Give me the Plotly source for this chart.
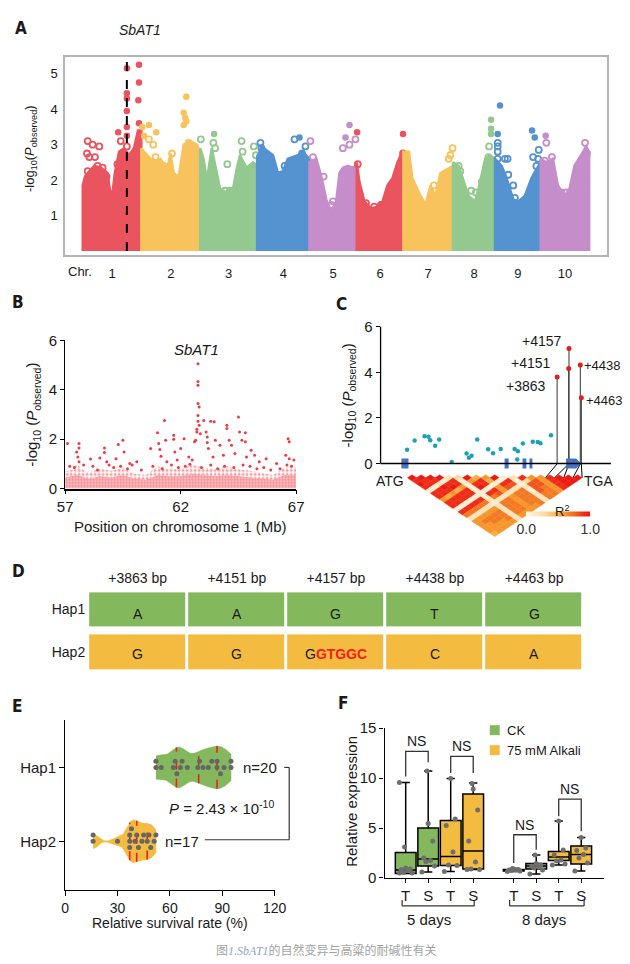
import numpy as np
import plotly.graph_objects as go
from plotly.colors import sample_colorscale

W, H = 630, 964
# The page body keeps an 8px margin and the whole page is photographed into 630x964,
# so target (picture) pixel positions are mapped back into figure pixels here.
PAGE_M = 8
SX, SY = W / (W + 2 * PAGE_M), H / (H + 2 * PAGE_M)
def X(d): return d / SX - PAGE_M
def Y(d): return d / SY - PAGE_M
def fx(d): return min(max(X(d) / W, 0), 1)
def fy(d): return min(max(1 - Y(d) / H, 0), 1)
def dom_x(a, b): return [fx(a), fx(b)]
def dom_y(top, bottom): return [fy(bottom), fy(top)]

FONT = "Liberation Sans, Arial, Helvetica, sans-serif"
BOLD = "Liberation Sans Narrow, DejaVu Sans Condensed, Arial Narrow, sans-serif"
INK = "#1a1a1a"

# ======================= DATA =======================
# ---- Panel A: Manhattan plot (positions within chromosome, Mb)
CHR_NAMES = ['1', '2', '3', '4', '5', '6', '7', '8', '9', '10']
CHR_LEN = [81, 81.4, 78.7, 72.3, 65.4, 64.5, 68.6, 58.1, 63.1, 67]
RED, YEL, GRN, BLU, PUR = '#E9545E', '#F8C35C', '#93C98F', '#5492D0', '#C58DC9'
CHR_COLORS = [RED, YEL, GRN, BLU, PUR, RED, YEL, GRN, BLU, PUR]
ENV_POS = [
    [0, 3.2, 6.9, 16, 25.2, 34.3, 38, 41.6, 44.4, 50.3, 57.2, 64, 70.9, 76.4, 81],
    [0, 3.7, 8.2, 17.4, 26.5, 35.7, 40.3, 44.8, 51.7, 58.6, 67.7, 76.9, 81.4],
    [0, 4.6, 9.2, 16, 20.6, 27.5, 36.6, 45.8, 50.3, 54.9, 64, 73.2, 78.7],
    [0, 5.9, 15.1, 22, 28.8, 35.7, 42.5, 49.4, 56.3, 63.1, 67.7, 72.3],
    [0, 9.6, 16.5, 23.3, 30.2, 37, 41.6, 46.2, 53.1, 59.9, 65.4],
    [0, 3.7, 10.5, 19.7, 28.8, 35.7, 42.5, 49.4, 56.3, 60.8, 64.5],
    [0, 7.8, 12.4, 21.5, 30.7, 37.5, 44.4, 51.2, 60.4, 68.6],
    [0, 7.8, 14.6, 21.5, 30.7, 37.5, 44.4, 51.2, 58.1],
    [0, 9.2, 16, 25.2, 32, 41.2, 50.3, 57.2, 63.1],
    [0, 7.8, 16.9, 23.8, 32.9, 39.8, 46.7, 55.8, 62.7, 67],
]
ENV_VAL = [
    [1.85, 2.1, 2.2, 2.4, 2.35, 2.2, 1.65, 1.7, 2.2, 2.8, 2.9, 2.7, 2.9, 3.4, 3.4],
    [2.9, 2.8, 2.7, 2.5, 2.6, 2.3, 2.75, 2.2, 2.1, 3.0, 3.1, 3.0, 2.8],
    [2.9, 2.6, 2.0, 2.9, 2.4, 1.75, 1.65, 1.8, 2.3, 2.7, 2.35, 2.5, 2.4],
    [2.6, 2.95, 2.8, 2.7, 2.2, 2.25, 2.6, 2.65, 2.7, 2.8, 2.7, 2.6],
    [2.5, 2.6, 2.1, 1.45, 1.1, 1.4, 2.2, 2.35, 2.4, 2.35, 2.4],
    [2.5, 1.95, 1.4, 1.2, 1.25, 1.4, 1.85, 2.05, 2.5, 2.7, 2.8],
    [2.8, 2.8, 2.05, 1.65, 1.3, 1.85, 1.55, 2.2, 2.3, 2.4],
    [2.5, 2.4, 1.95, 1.55, 1.4, 1.95, 2.6, 2.7, 2.6],
    [2.6, 2.4, 2.05, 1.45, 1.4, 1.55, 2.05, 2.3, 2.5],
    [2.6, 2.5, 2.6, 1.85, 1.55, 1.75, 2.4, 2.7, 2.95, 2.8],
]
TOP_POS = [
    [6.9, 13.7, 22.9, 5.9, 9.2, 16.9, 6.9, 20.6, 27.5, 32.9, 49, 52.6, 48, 61, 61, 61, 61, 61, 61, 61, 77.8, 77.8, 76.9, 77.8],
    [1.4, 10.5, 20.6, 3.7, 10.5, 16.5, 19.7, 42.5, 62.2, 58.6, 60.8, 62.2, 58.6, 65.4, 31.1],
    [0.9, 19.2, 18.3, 20.6, 37.5, 57.2, 58.6, 74.1, 76.9, 34.3, 41.2],
    [4.6, 5.9, 3.7, 51.7, 58.6, 66.8, 62.2, 38, 43.9],
    [1.4, 5, 19.7, 55.4, 49.9, 55.4, 46.2, 63.6, 32.5, 30.2],
    [0.5, 64, 64, 1.4, 12.8, 24.2, 33.4],
    [68, 65, 62.7, 42.1],
    [52.6, 52.6, 52.6, 49.9, 49, 7.8, 10.1, 25.2, 31.6, 39.8],
    [6.9, 3.7, 3.7, 3.7, 3.7, 3.7, 13.7, 17.4, 18.3, 25.2, 27.5, 51.2, 54.9, 60.4, 52.6, 59.5, 57.2],
    [6.9, 7.8, 5.5, 15.6, 28.4, 35.2, 61.3, 64, 51.2],
]
TOP_VAL = [
    [3.1, 3.0, 2.95, 2.75, 2.65, 2.65, 2.25, 2.4, 2.35, 2.1, 3.35, 3.1, 2.45, 5.15, 4.45, 4.3, 3.95, 3.5, 3.25, 2.95, 5.25, 4.75, 4.25, 3.6],
    [3.5, 3.55, 3.35, 3.25, 3.15, 3.0, 2.65, 2.75, 4.35, 3.9, 3.75, 3.65, 3.55, 3.05, 2.4],
    [3.15, 3.3, 3.05, 2.9, 2.45, 3.1, 2.8, 2.95, 2.7, 1.7, 1.7],
    [3.05, 2.9, 2.65, 3.15, 3.2, 2.95, 2.75, 2.4, 2.45],
    [3.1, 2.65, 2.1, 3.55, 3.2, 3.0, 2.9, 3.15, 1.4, 1.3],
    [3.35, 3.3, 2.75, 2.45, 1.35, 1.25, 1.3],
    [2.9, 2.7, 2.6, 1.85],
    [3.7, 3.45, 3.3, 2.95, 2.65, 2.4, 2.25, 1.7, 1.65, 1.95],
    [4.1, 3.3, 3.05, 2.95, 2.8, 2.6, 2.6, 2.6, 2.15, 1.85, 1.5, 3.4, 3.2, 2.85, 2.65, 2.6, 2.4],
    [3.25, 3.05, 2.55, 2.65, 1.65, 1.65, 3.05, 2.75, 2.4],
]
SBAT1_POS_CHR1 = 61.0
A_YTICKS = [1, 2, 3, 4, 5]

# ---- Panel B: chromosome 1 region (Mb, -log10 P)
B_POS = [57.1, 57.6, 57.6, 57.5, 57.55, 57.6, 58.1, 58.5, 58.7, 58.7, 58.8, 59.3, 59.2, 59.5, 59.55,
         59.8, 60.1, 60.7, 61.0, 61.05, 61.1, 61.15, 61.3, 61.35, 61.4, 61.7, 61.7, 61.75, 61.85,
         62.0, 62.15, 62.35, 62.5, 62.6, 62.65, 62.7, 62.75, 62.75, 62.75, 62.75, 62.8, 62.75,
         62.75, 62.8, 62.7, 62.85, 63.0, 63.1, 63.15, 63.15, 63.2, 63.3, 63.45, 63.5, 63.4, 63.7,
         63.85, 64.0, 64.0, 64.1, 64.2, 64.35, 64.5, 64.55, 64.65, 64.8, 64.8, 64.85, 65.05, 65.2,
         65.4, 65.7, 66.15, 66.65, 66.7, 66.55, 66.7, 66.9,
         57.2, 57.4, 57.8, 58.2, 58.4, 58.9, 59.1, 59.4, 59.7, 59.9, 60.3, 60.8, 61.2, 61.6, 61.9,
         62.2, 62.4, 62.9, 63.3, 63.6, 63.9, 64.3, 64.7, 65.0, 65.3, 65.6, 65.9, 66.3, 66.6, 66.8]
B_VAL = [1.82, 1.82, 1.64, 1.48, 1.28, 1.08, 1.2, 1.24, 1.64, 1.46, 1.08, 1.78, 1.21, 1.95, 1.48,
         1.01, 1.08, 1.62, 2.26, 1.82, 1.58, 1.31, 2.76, 1.95, 1.08, 2.16, 2.0, 1.48, 1.15,
         1.62, 2.02, 1.28, 1.15, 1.89, 1.95, 2.29, 5.05, 4.34, 4.18, 3.44, 3.3, 2.96,
         2.72, 2.56, 2.4, 2.22, 2.76, 2.29, 2.09, 1.86, 1.62, 2.72, 2.7, 1.95, 1.28, 1.75,
         1.35, 2.56, 2.43, 1.95, 1.75, 1.42, 2.9, 2.29, 1.95, 2.26, 1.89, 1.28, 1.55, 1.35,
         1.08, 1.21, 1.01, 2.02, 1.89, 1.35, 1.21, 1.15,
         0.9, 0.85, 0.95, 0.9, 0.75, 0.95, 0.85, 0.9, 0.8, 0.95, 0.75, 0.9, 0.8, 0.95, 0.85,
         0.9, 0.98, 0.85, 0.95, 0.8, 0.9, 0.85, 0.95, 0.9, 0.8, 0.85, 0.75, 0.8, 0.95, 0.9]
B_BAND_POS = [57, 57.3, 57.5, 57.7, 58, 58.5, 59, 59.5, 60, 60.5, 61, 61.5, 62, 62.5, 63, 63.5, 64,
              64.5, 65, 65.5, 66, 66.5, 67]
B_BAND_VAL = [0.7, 0.75, 1.0, 0.8, 0.65, 0.8, 0.72, 0.85, 0.6, 0.55, 0.9, 0.8, 0.8, 0.95, 0.85, 0.8,
              0.9, 0.78, 0.72, 0.62, 0.55, 0.85, 0.85]
B_CORE_VAL = [0.45, 0.5, 0.55, 0.5, 0.4, 0.5, 0.45, 0.55, 0.4, 0.35, 0.55, 0.5, 0.5, 0.6, 0.55, 0.5,
              0.55, 0.5, 0.45, 0.4, 0.35, 0.55, 0.55]

# ---- Panel C: gene-level association (bp from ATG)
C_SNP_POS = [140, 328, 575, 673, 714, 837, 936, 1248, 1617, 1675, 1740, 1880, 2151, 2274, 2463,
             2808, 2890, 2873, 3013, 3259, 3382, 3448, 3711]
C_SNP_VAL = [0.61, 1.01, 1.2, 1.17, 1.02, 0.78, 1.05, 0.07, 0.44, 0.25, 0.34, 1.05, 0.63, 0.45, 0.64,
             0.64, 0.54, 0.18, 0.88, 0.95, 0.94, 0.89, 1.24]
C_SIG_POS = [3863, 4151, 4157, 4438, 4463]
C_SIG_VAL = [3.8, 4.17, 5.05, 4.32, 2.88]
C_SIG_LABELS = ['+3863', '+4151', '+4157', '+4438', '+4463']
C_EXON_START = [0, 2560, 3005, 3177, 4085]
C_EXON_END = [175, 2660, 3100, 3250, 4463]
LD_X_START, LD_X_END = 148, 4483
LD_R2_TENTHS = [
    [10, 9, 10, 9, 1, 9, 9, 6, 9, 9, 1, 9, 7, 2, 6, 6, 6, 6, 5],
    [10, 9, 9, 1, 9, 9, 5, 9, 9, 1, 9, 7, 2, 6, 7, 6, 6, 6],
    [10, 9, 2, 10, 9, 6, 9, 9, 1, 9, 7, 2, 6, 7, 7, 6, 6],
    [10, 1, 9, 10, 5, 9, 9, 1, 9, 7, 2, 6, 7, 7, 6, 6],
    [2, 9, 9, 6, 9, 9, 1, 9, 7, 2, 6, 7, 7, 7, 6],
    [3, 1, 1, 1, 1, 1, 1, 2, 1, 2, 2, 2, 2, 2],
    [10, 6, 9, 10, 1, 9, 7, 2, 7, 7, 7, 7, 6],
    [5, 9, 9, 1, 9, 8, 2, 7, 7, 7, 7, 6],
    [6, 5, 1, 6, 6, 2, 6, 6, 6, 6, 6],
    [10, 1, 9, 8, 2, 7, 7, 7, 7, 6],
    [1, 9, 8, 2, 7, 7, 7, 7, 7],
    [2, 1, 1, 2, 1, 2, 2, 2],
    [9, 3, 8, 8, 8, 7, 7],
    [6, 8, 8, 7, 7, 7],
    [6, 6, 6, 6, 6],
    [9, 9, 9, 9],
    [10, 10, 10],
    [10, 10],
    [10],
]
LD_SCALE = [[0, '#FFF8EA'], [0.3, '#FCD9A0'], [0.55, '#F8A530'], [0.75, '#F26A1E'],
            [0.9, '#EE2C17'], [1, '#EC1A12']]

# ---- Panel D: haplotypes
D_SITES = ['+3863 bp', '+4151 bp', '+4157 bp', '+4438 bp', '+4463 bp']
HAP_NAMES = ['Hap1', 'Hap2']
HAP1_ALLELES = ['A', 'A', 'G', 'T', 'G']
HAP2_ALLELES = ['G', 'G', 'G', 'C', 'A']
HAP2_INSERT = ['', '', 'GTGGC', '', '']
HGREEN, HYELLOW = '#83B95C', '#F3BB40'

# ---- Panel E: relative survival rate (%)
HAP1_SURV = [52, 52, 55, 62, 63, 64, 66, 67, 70, 76, 77, 79, 82, 84, 87, 87, 89, 91, 95, 95]
HAP2_SURV = [16, 16, 30, 37, 37, 37, 38, 40, 41, 42, 44, 45, 47, 48, 49, 51, 52]
E_P_TEXT = '<i>P</i> = 2.43 × 10<sup>-10</sup>'

# ---- Panel F: relative expression
F_POS = [0, 1, 2, 3, 4.8, 5.8, 6.8, 7.8]
F_TICKS = ['T', 'S', 'T', 'S', 'T', 'S', 'T', 'S']
F_TREAT = ['CK', 'CK', 'Alkali', 'Alkali', 'CK', 'CK', 'Alkali', 'Alkali']
F_Q1 = [0.45, 1.2, 1.25, 0.9, 0.7, 0.9, 1.75, 1.4]
F_MED = [0.8, 1.9, 2.15, 2.7, 0.8, 1.2, 2.1, 2.35]
F_Q3 = [2.55, 5.0, 5.75, 8.4, 0.85, 1.45, 2.65, 3.2]
F_LO = [0.45, 0.6, 0.65, 0.85, 0.65, 0.4, 1.3, 0.7]
F_HI = [9.55, 10.7, 9.95, 9.5, 0.95, 2.3, 5.7, 4.05]
F_PTS = [
    [0.5, 0.5, 0.55, 0.8, 0.85, 0.9, 1.0, 3.1, 9.55],
    [0.6, 1.2, 1.65, 1.75, 2.0, 3.7, 5.45, 10.7],
    [0.65, 1.25, 1.3, 2.6, 5.25, 5.9, 9.95],
    [0.85, 0.85, 0.9, 1.6, 3.7, 6.8, 8.9, 9.45],
    [0.65, 0.7, 0.75, 0.8, 0.8, 0.85, 0.9, 0.95],
    [0.4, 0.8, 1.0, 1.1, 1.2, 1.3, 1.45, 2.3],
    [1.3, 1.4, 1.7, 1.8, 2.3, 2.8, 5.7],
    [0.7, 1.5, 2.0, 2.35, 2.75, 3.0, 4.05],
]
F_NS_LEFT = [0, 2, 4.8, 6.8]
F_NS_RIGHT = [1, 3, 5.8, 7.8]
F_NS_TOP = [12.67, 12.17, 4.33, 7.9]
F_NS_LEND = [10.17, 10.5, 1.5, 6.17]
F_NS_REND = [11.6, 10.5, 2.83, 4.67]
F_GROUPS = ['5 days', '8 days']
F_LEGEND = ['CK', '75 mM Alkali']

CAPTION = ("图<span style='font-family:Liberation Serif, serif;color:#93A3C2'><i>1.SbAT1</i></span>"
           "的自然变异与高粱的耐碱性有关")

# ======================= FIGURE =======================
fig = go.Figure()
shapes, annots = [], []

def ann(text, x, y, size=14, xanchor='center', yanchor='middle', color=INK, family=FONT, **kw):
    return dict(text=text, x=fx(x), y=fy(y), xref='paper', yref='paper', showarrow=False,
                font=dict(family=family, size=size, color=color), xanchor=xanchor, yanchor=yanchor, **kw)

def pline(x0, y0, x1, y1, color='#333333', width=1.2):
    return dict(type='line', xref='paper', yref='paper', x0=fx(x0), y0=fy(y0), x1=fx(x1), y1=fy(y1),
                line=dict(color=color, width=width))

# ---------- Panel A
starts = np.concatenate([[0], np.cumsum(CHR_LEN)[:-1]])
centers = starts + np.array(CHR_LEN) / 2
for k in range(10):
    s, L, c = starts[k], CHR_LEN[k], CHR_COLORS[k]
    xs = [s] + [s + p for p in ENV_POS[k]] + [s + L]
    ys = [0] + ENV_VAL[k] + [0]
    fig.add_trace(go.Scatter(x=xs, y=ys, mode='lines', fill='toself', fillcolor=c,
                             line=dict(color=c, width=2.5), hoverinfo='skip', xaxis='x', yaxis='y'))
    px_ = np.array(TOP_POS[k]) + s
    pv = np.array(TOP_VAL[k])
    hi = pv >= 3.2
    fig.add_trace(go.Scatter(x=px_[hi], y=pv[hi], mode='markers',
                             marker=dict(size=6.5, color=c, line=dict(width=0)),
                             hoverinfo='skip', xaxis='x', yaxis='y'))
    fig.add_trace(go.Scatter(x=px_[~hi], y=pv[~hi], mode='markers',
                             marker=dict(size=6, color=c, symbol='circle-open', line=dict(width=1.8)),
                             hoverinfo='skip', xaxis='x', yaxis='y'))
A_YMIN, A_YMAX = -0.107, 5.46
fig.add_trace(go.Scatter(x=[SBAT1_POS_CHR1, SBAT1_POS_CHR1], y=[0, A_YMAX], mode='lines',
                         line=dict(color='black', width=2, dash='dash'), hoverinfo='skip',
                         xaxis='x', yaxis='y'))
fig.add_trace(go.Scatter(x=[SBAT1_POS_CHR1], y=[5.73], mode='markers', cliponaxis=False,
                         marker=dict(symbol='triangle-down', size=14, color='black'),
                         hoverinfo='skip', xaxis='x', yaxis='y'))

# ---------- Panel B
fig.add_trace(go.Scatter(x=B_BAND_POS + [67, 57], y=B_BAND_VAL + [0, 0], mode='lines', fill='toself',
                         fillcolor='white', line=dict(width=0), hoverinfo='skip',
                         fillpattern=dict(shape='.', fgcolor='#EE3B45', bgcolor='white', size=4, solidity=0.45),
                         xaxis='x2', yaxis='y2'))
fig.add_trace(go.Scatter(x=B_BAND_POS + [67, 57], y=B_CORE_VAL + [0, 0], mode='lines', fill='toself',
                         fillcolor='white', line=dict(width=0), hoverinfo='skip',
                         fillpattern=dict(shape='.', fgcolor='#EE3B45', bgcolor='#FBD3D5', size=3, solidity=0.6),
                         xaxis='x2', yaxis='y2'))
fig.add_trace(go.Scatter(x=B_POS, y=B_VAL, mode='markers', marker=dict(size=3, color='#EE3B45'),
                         hoverinfo='skip', xaxis='x2', yaxis='y2'))

# ---------- Panel C
for s0, e0 in zip(C_EXON_START[:-1], C_EXON_END[:-1]):
    shapes.append(dict(type='rect', xref='x3', yref='y3', x0=s0, x1=e0, y0=-0.22, y1=0.22,
                       fillcolor='#4472C4', line=dict(width=0), layer='above'))
s5, e5 = C_EXON_START[-1], C_EXON_END[-1]
neck = e5 - 130
shapes.append(dict(type='path', xref='x3', yref='y3',
                   path=f"M {s5},-0.22 L {neck},-0.22 L {e5},0 L {neck},0.22 L {s5},0.22 Z",
                   fillcolor='#4472C4', line=dict(width=0), layer='above'))
shapes.append(pline(375, 455, 607, 455, color='black', width=1.5))
shapes.append(pline(375, 318, 375, 455, color='black', width=1.3))
stem_x, stem_y = [], []
for p, v in zip(C_SIG_POS, C_SIG_VAL):
    stem_x += [p, p, None]; stem_y += [0, v, None]
fig.add_trace(go.Scatter(x=stem_x, y=stem_y, mode='lines', line=dict(color='#333333', width=1),
                         hoverinfo='skip', xaxis='x3', yaxis='y3'))
fig.add_trace(go.Scatter(x=C_SNP_POS, y=C_SNP_VAL, mode='markers', marker=dict(size=4.5, color='#1BA2B6'),
                         hoverinfo='skip', xaxis='x3', yaxis='y3'))
fig.add_trace(go.Scatter(x=C_SIG_POS, y=C_SIG_VAL, mode='markers', marker=dict(size=5, color='#E0201B'),
                         hoverinfo='skip', xaxis='x3', yaxis='y3'))
# order of C_SIG_LABELS: +3863, +4151, +4157, +4438, +4463
c_label_cfg = [('right', -9, -9, 14), ('right', -16, 5, 14), ('right', -5, 7, 14),
               ('left', 2, 0, 13), ('left', 3, -3, 13)]
for p, v, t, (xa, xs, ys, fs) in zip(C_SIG_POS, C_SIG_VAL, C_SIG_LABELS, c_label_cfg):
    annots.append(dict(text=t, x=p, y=v, xref='x3', yref='y3', showarrow=False, xanchor=xa,
                       yanchor='middle', xshift=xs, yshift=ys, font=dict(family=FONT, size=fs, color=INK)))

# LD triangle
N_LD = len(LD_R2_TENTHS) + 1
ld_x = np.linspace(LD_X_START, LD_X_END, N_LD)
hw = (ld_x[1] - ld_x[0]) / 2
for i, row in enumerate(LD_R2_TENTHS):
    for off, v in enumerate(row):
        j = i + 1 + off
        d = j - i
        cx = (ld_x[i] + ld_x[j]) / 2
        cy = -(d - 1)
        col = sample_colorscale(LD_SCALE, [v / 10])[0]
        shapes.append(dict(type='path', xref='x3', yref='y4',
                           path=f"M {cx},{cy + 1} L {cx + hw},{cy} L {cx},{cy - 1} L {cx - hw},{cy} Z",
                           fillcolor=col, line=dict(width=0.4, color=col), layer='above'))
con_x, con_y = [], []
for k, p in enumerate(C_SIG_POS):
    con_x += [p, ld_x[N_LD - len(C_SIG_POS) + k], None]; con_y += [4.5, 0, None]
fig.add_trace(go.Scatter(x=con_x, y=con_y, mode='lines', line=dict(color='black', width=1),
                         hoverinfo='skip', xaxis='x3', yaxis='y4'))
fig.add_trace(go.Scatter(x=[ld_x[0]], y=[-30], mode='markers', hoverinfo='skip', xaxis='x3', yaxis='y4',
                         marker=dict(size=1, opacity=0, color=[0], cmin=0, cmax=1, colorscale=LD_SCALE,
                                     showscale=True,
                                     colorbar=dict(orientation='h', x=fx(554), y=fy(513.5), xanchor='center',
                                                   yanchor='middle', len=84, lenmode='pixels', thickness=5,
                                                   thicknessmode='pixels', tickvals=[0, 1],
                                                   ticktext=['0.0', '1.0'], ticks='', outlinewidth=0,
                                                   tickfont=dict(family=FONT, size=14, color='#333')))))

# ---------- Panel D
fig.add_trace(go.Heatmap(x=D_SITES, y=HAP_NAMES[::-1], z=[[0] * 5, [1] * 5], zmin=0, zmax=1,
                         colorscale=[[0, HYELLOW], [1, HGREEN]], showscale=False, xgap=3, ygap=8,
                         hoverinfo='skip', xaxis='x5', yaxis='y5'))
for k in range(5):
    annots.append(dict(text=HAP1_ALLELES[k], x=k, y=1, xref='x5', yref='y5', showarrow=False, yshift=-4,
                       font=dict(family=FONT, size=14, color=INK)))
    t2 = HAP2_ALLELES[k]
    if HAP2_INSERT[k]:
        t2 += f"<span style='color:#FF1A1A'><b>{HAP2_INSERT[k]}</b></span>"
    annots.append(dict(text=t2, x=k, y=0, xref='x5', yref='y5', showarrow=False, yshift=-2,
                       font=dict(family=FONT, size=14, color=INK)))

# ---------- Panel E
def kde(vals, grid, bw):
    v = np.asarray(vals, float)[:, None]
    return np.exp(-0.5 * ((grid[None, :] - v) / bw) ** 2).sum(axis=0)

def beeswarm(vals, step=0.085, mind=2.7):
    placed, out = [], []
    for v in vals:
        for off in [0, step, -step, 2 * step, -2 * step]:
            if all(abs(v - pv) >= mind or abs(off - po) > 1e-9 for pv, po in placed):
                break
        placed.append((v, off)); out.append(off)
    return np.array(out)

for vals, center, col, bw in [(HAP1_SURV, 1, HGREEN, 4.2), (HAP2_SURV, 0, HYELLOW, 2.8)]:
    g = np.linspace(min(vals), max(vals), 300)
    dens = kde(vals, g, bw)
    half = dens / dens.max() * 0.29
    fig.add_trace(go.Scatter(x=np.concatenate([g, g[::-1]]),
                             y=np.concatenate([center + half, (center - half)[::-1]]),
                             mode='lines', fill='toself', fillcolor=col, line=dict(color=col, width=0.5),
                             hoverinfo='skip', xaxis='x6', yaxis='y6'))
    qx, qy = [], []
    for q in np.percentile(vals, [25, 50, 75]):
        h = np.interp(q, g, half)
        qx += [q, q, None]; qy += [center - h, center + h, None]
    fig.add_trace(go.Scatter(x=qx, y=qy, mode='lines', line=dict(color='#E8231A', width=1.6, dash='dash'),
                             hoverinfo='skip', xaxis='x6', yaxis='y6'))
    sv = np.sort(vals)
    offs = beeswarm(sv)
    fig.add_trace(go.Scatter(x=sv, y=center + offs, mode='markers', marker=dict(size=5, color='#666666'),
                             hoverinfo='skip', xaxis='x6', yaxis='y6'))
annots.append(dict(text=f'n={len(HAP1_SURV)}', x=101, y=1, xref='x6', yref='y6', showarrow=False,
                   xanchor='left', font=dict(family=FONT, size=15, color=INK)))
annots.append(dict(text=f'n={len(HAP2_SURV)}', x=56, y=0, xref='x6', yref='y6', showarrow=False,
                   xanchor='left', font=dict(family=FONT, size=15, color=INK)))
annots.append(ann(E_P_TEXT, 215, 799, size=15))
shapes += [pline(278, 759.3, 283, 759.3), pline(283, 759.3, 283, 831.7), pline(198, 831.7, 283, 831.7)]
annots.append(ann('Relative survival rate (%)', 163, 915, size=14))

# ---------- Panel F
OFFS = [-0.28, 0.28, -0.1, 0.1, -0.2, 0.2, 0.0, -0.05]
for treat, col in [('CK', HGREEN), ('Alkali', HYELLOW)]:
    idx = [i for i, t in enumerate(F_TREAT) if t == treat]
    fig.add_trace(go.Box(x=[F_POS[i] for i in idx], q1=[F_Q1[i] for i in idx], median=[F_MED[i] for i in idx],
                         q3=[F_Q3[i] for i in idx], lowerfence=[F_LO[i] for i in idx],
                         upperfence=[F_HI[i] for i in idx], fillcolor=col, line=dict(color='black', width=1.5),
                         width=0.92, whiskerwidth=0.4, boxpoints=False, hoverinfo='skip',
                         xaxis='x7', yaxis='y7'))
ptx, pty = [], []
for i, pts in enumerate(F_PTS):
    for k, v in enumerate(sorted(pts)):
        ptx.append(F_POS[i] + OFFS[k % len(OFFS)]); pty.append(v)
fig.add_trace(go.Scatter(x=ptx, y=pty, mode='markers', marker=dict(size=5, color='#6E6E6E'),
                         hoverinfo='skip', xaxis='x7', yaxis='y7'))
nsx, nsy = [], []
for l, r, t, le, re in zip(F_NS_LEFT, F_NS_RIGHT, F_NS_TOP, F_NS_LEND, F_NS_REND):
    nsx += [l, l, r, r, None]; nsy += [le, t, t, re, None]
    annots.append(dict(text='NS', x=(l + r) / 2, y=t, xref='x7', yref='y7', showarrow=False,
                       yanchor='bottom', yshift=0, font=dict(family=FONT, size=14, color=INK)))
fig.add_trace(go.Scatter(x=nsx, y=nsy, mode='lines', line=dict(color='#333333', width=1.3),
                         hoverinfo='skip', xaxis='x7', yaxis='y7'))
shapes += [pline(396.7, 892, 396.7, 898), pline(396.7, 898, 469.3, 898), pline(469.3, 898, 469.3, 892),
           pline(505, 892, 505, 898), pline(505, 898, 580, 898), pline(580, 898, 580, 892)]
annots += [ann(F_GROUPS[0], 424, 912, size=15), ann(F_GROUPS[1], 540, 912, size=15)]
for (y0, col, txt) in [(717, HGREEN, F_LEGEND[0]), (737, HYELLOW, F_LEGEND[1])]:
    shapes.append(dict(type='rect', xref='paper', yref='paper', x0=fx(485), x1=fx(495), y0=fy(y0 + 10),
                       y1=fy(y0), fillcolor=col, line=dict(width=0)))
    annots.append(ann(txt, 500, y0 + 5, size=13, xanchor='left'))

# ---------- Text annotations (titles, labels)
for lab, x, y in [('A', 13, 19), ('B', 10, 293), ('C', 336, 295), ('D', 10, 563), ('E', 9, 698), ('F', 337, 695)]:
    annots.append(ann(f'<b>{lab}</b>', x, y, size=17, family=BOLD))
annots.append(ann('<i>SbAT1</i>', 133, 21, size=14))
annots.append(ann('Chr.', 72, 263, size=13))
annots.append(ann('-log<sub>10</sub>(<i>P</i><sub>observed</sub>)', 23, 140, size=13, textangle=-90))
annots.append(ann('<i>SbAT1</i>', 190, 341, size=15))
annots.append(ann('-log<sub>10</sub> (<i>P</i><sub>observed</sub>)', 25, 406, size=15, textangle=-90))
annots.append(ann('Position on chromosome 1 (Mb)', 173, 518, size=15))
annots.append(ann('-log<sub>10</sub> (<i>P</i><sub>observed</sub>)', 343, 387, size=15, textangle=-90))
annots.append(ann('ATG', 385, 472, size=14))
annots.append(ann('TGA', 595, 472, size=14))
annots.append(ann('R<sup>2</sup>', 558, 503, size=13))
annots.append(ann('Relative expression', 345, 793, size=15, textangle=-90))
annots.append(ann(CAPTION, 321, 942, size=12, color='#A3A3A3',
                  family='Noto Sans CJK SC, sans-serif'))

# ---------- Axes
tf = lambda s, c=INK: dict(family=FONT, size=s, color=c)
base = dict(showgrid=False, zeroline=False)
fig.update_layout(
    width=W, height=H, margin=dict(l=0, r=0, t=0, b=0), paper_bgcolor='white', plot_bgcolor='white',
    showlegend=False, boxmode='overlay', font=dict(family=FONT, color=INK),
    xaxis=dict(**base, domain=dom_x(57.3, 603), range=[-24.3, 724.7], anchor='y', tickvals=list(centers),
               ticktext=CHR_NAMES, ticks='', showline=True, mirror=True, linecolor='#B5B5B5', linewidth=1.5,
               tickfont=tf(13), ticklabelstandoff=6),
    yaxis=dict(**base, domain=dom_y(48.3, 246), range=[A_YMIN, A_YMAX], anchor='x', tickvals=A_YTICKS,
               ticks='', showline=True, mirror=True, linecolor='#B5B5B5', linewidth=1.5, tickfont=tf(13),
               ticklabelstandoff=3),
    xaxis2=dict(**base, domain=dom_x(57.3, 290), range=[57, 67], anchor='y2', tickvals=[57, 62, 67],
                ticks='outside', ticklen=4, tickcolor='black', showline=True, linecolor='black', linewidth=1.8,
                tickfont=tf(15)),
    yaxis2=dict(**base, domain=dom_y(331.7, 480), range=[0, 6], anchor='x2', tickvals=[0, 2, 4, 6],
                ticks='outside', ticklen=4, tickcolor='black', showline=True, linecolor='black', linewidth=1.3,
                tickfont=tf(15)),
    xaxis3=dict(**base, domain=dom_x(375, 607), range=[-517, 5197], anchor='y3', visible=False),
    yaxis3=dict(**base, domain=dom_y(318, 461.85), range=[-0.3, 6], anchor='x3', tickvals=[0, 2, 4, 6],
                ticks='outside', ticklen=4, tickcolor='black', showline=False, tickfont=tf(15)),
    yaxis4=dict(**base, domain=dom_y(455.35, 529.75), range=[-19.5, 4.5], anchor='x3', visible=False),
    xaxis5=dict(**base, domain=dom_x(80.5, 579.5), anchor='y5', side='top', ticks='', showline=False,
                tickfont=tf(14), ticklabelstandoff=2),
    yaxis5=dict(**base, domain=dom_y(580, 665), anchor='x5', ticks='', showline=False, tickfont=tf(14),
                ticklabelstandoff=2),
    xaxis6=dict(**base, domain=dom_x(57.3, 268.3), range=[0, 120], anchor='y6', tickvals=[0, 30, 60, 90, 120],
                ticks='outside', ticklen=5, tickcolor='black', showline=True, linecolor='black', linewidth=1.3,
                tickfont=tf(14)),
    yaxis6=dict(**base, domain=dom_y(711.7, 881.7), range=[-0.654, 1.643], anchor='x6', tickvals=[0, 1],
                ticktext=['Hap2', 'Hap1'], ticks='outside', ticklen=5, tickcolor='black', showline=True,
                linecolor='black', linewidth=1.3, tickfont=tf(15)),
    xaxis7=dict(**base, domain=dom_x(379, 600), range=[-0.94, 8.81], anchor='y7', tickvals=F_POS,
                ticktext=F_TICKS, ticks='outside', ticklen=4, tickcolor='black', showline=True,
                linecolor='black', linewidth=1.3, tickfont=tf(15)),
    yaxis7=dict(**base, domain=dom_y(720, 870), range=[0, 15], anchor='x7', tickvals=[0, 5, 10, 15],
                ticks='outside', ticklen=4, tickcolor='black', showline=True, linecolor='black', linewidth=1.3,
                tickfont=tf(15)),
    shapes=shapes, annotations=annots,
)

fig.write_html("out.html", config={'displayModeBar': False})
